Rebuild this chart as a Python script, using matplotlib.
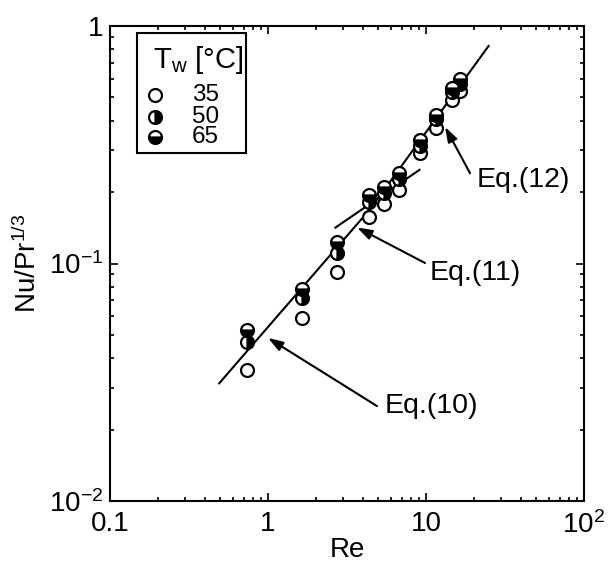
import numpy as np
import matplotlib.pyplot as plt
from matplotlib.patches import Rectangle
from matplotlib.ticker import FixedLocator, FixedFormatter, LogLocator, NullFormatter

plt.rcParams['font.family'] = ['Liberation Sans', 'DejaVu Sans']
plt.rcParams['mathtext.fontset'] = 'custom'
plt.rcParams['mathtext.rm'] = 'Liberation Sans'
plt.rcParams['mathtext.it'] = 'Liberation Sans'

# measured Nu/Pr^(1/3) vs Re for three wall temperatures
re = [0.736, 1.64, 2.73, 4.36, 5.42, 6.75, 9.16, 11.6, 14.6, 16.4]
nu_35 = [0.0356, 0.059, 0.092, 0.157, 0.178, 0.204, 0.292, 0.372, 0.488, 0.532]
nu_50 = [0.0467, 0.0716, 0.111, 0.182, 0.198, 0.227, 0.313, 0.406, 0.527, 0.570]
nu_65 = [0.0525, 0.0781, 0.123, 0.194, 0.210, 0.240, 0.331, 0.422, 0.548, 0.598]
temps = ['35', '50', '65']

# correlation lines (end points)
eq10_re = [0.491, 4.45]
eq10_nu = [0.0313, 0.170]
eq11_re = [2.67, 9.1]
eq11_nu = [0.1416, 0.248]
eq12_re = [4.45, 24.9]
eq12_nu = [0.170, 0.824]

fig = plt.figure(figsize=(6.13, 5.65), dpi=100)
ax = fig.add_axes([110/613, 64/565, 474/613, 475/565])
ax.set_xscale('log')
ax.set_yscale('log')
ax.set_xlim(0.1, 100)
ax.set_ylim(0.01, 1)

ax.plot(eq10_re, eq10_nu, 'k-', lw=1.5)
ax.plot(eq11_re, eq11_nu, 'k-', lw=1.5)
ax.plot(eq12_re, eq12_nu, 'k-', lw=1.5)

mk = dict(marker='o', ms=9.3, mew=1.6, mec='k', ls='none', color='k')
styles = [dict(mfc='white'),
          dict(fillstyle='right', mfc='k', markerfacecoloralt='white'),
          dict(fillstyle='bottom', mfc='k', markerfacecoloralt='white')]
for vals, st in zip([nu_35, nu_50, nu_65], styles):
    ax.plot(re, vals, **st, **mk)

arr = dict(arrowstyle='-|>,head_length=0.9,head_width=0.3', lw=1.5, color='k',
           shrinkA=0, shrinkB=0)
ax.annotate('', xy=(1.0, 0.0486), xytext=(4.9, 0.0251), arrowprops=arr)
ax.annotate('', xy=(3.66, 0.1418), xytext=(9.86, 0.1005), arrowprops=arr)
ax.annotate('', xy=(13.2, 0.376), xytext=(19.0, 0.240), arrowprops=arr)
ax.text(5.5, 0.0252, 'Eq.(10)', fontsize=20.5, ha='left', va='center')
ax.text(10.6, 0.0912, 'Eq.(11)', fontsize=20.5, ha='left', va='center')
ax.text(21.0, 0.225, 'Eq.(12)', fontsize=20.5, ha='left', va='center')

# legend box drawn by hand
tr = ax.transAxes
ax.add_patch(Rectangle((0.057, 0.7326), 0.230, 0.2524, transform=tr,
                       fill=True, fc='white', ec='k', lw=1.5, zorder=5))
ax.text(0.187, 0.928, r'$\mathregular{T_w}$ [°C]', transform=tr, fontsize=21,
        ha='center', va='center', zorder=6)
for yy, lab, st in zip([0.8547, 0.8084, 0.7663], temps, styles):
    ax.plot([0.0949], [yy], transform=tr, zorder=6, clip_on=False, **st, **mk)
    ax.text(0.173, yy, lab, transform=tr, fontsize=17.5, ha='left',
            va='center', zorder=6)

ax.xaxis.set_major_locator(FixedLocator([0.1, 1, 10, 100]))
ax.xaxis.set_major_formatter(FixedFormatter(['0.1', '1', '10', r'$\mathregular{10^2}$']))
ax.yaxis.set_major_locator(FixedLocator([0.01, 0.1, 1]))
ax.yaxis.set_major_formatter(FixedFormatter([r'$\mathregular{10^{-2}}$',
                                             r'$\mathregular{10^{-1}}$', '1']))
ax.xaxis.set_minor_locator(LogLocator(base=10, subs=np.arange(2, 10)))
ax.yaxis.set_minor_locator(LogLocator(base=10, subs=np.arange(2, 10)))
ax.xaxis.set_minor_formatter(NullFormatter())
ax.yaxis.set_minor_formatter(NullFormatter())
ax.tick_params(which='both', direction='in', top=True, right=True, width=1.2)
ax.tick_params(which='major', length=6, labelsize=20)
ax.tick_params(which='minor', length=3)
ax.tick_params(axis='x', pad=7)
ax.tick_params(axis='y', pad=5)
for s in ax.spines.values():
    s.set_linewidth(1.5)

ax.set_xlabel('Re', fontsize=20, labelpad=-1)
ax.set_ylabel(r'$\mathregular{Nu/Pr^{1/3}}$', fontsize=20, labelpad=5)

fig.savefig('out.png', dpi=100)
